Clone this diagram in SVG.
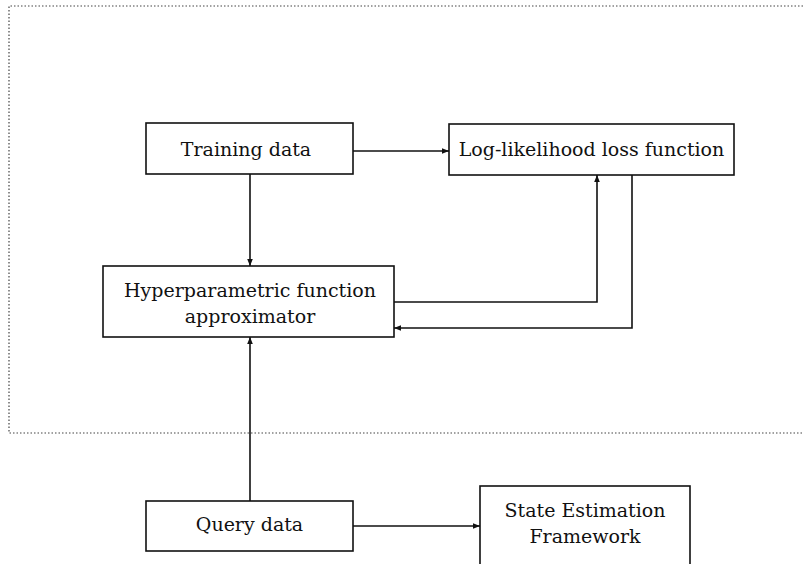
<svg xmlns="http://www.w3.org/2000/svg" width="804" height="564" viewBox="0 0 804 564">
  <defs>
    <marker id="arrow" viewBox="0 0 10 10" refX="10" refY="5" markerWidth="9" markerHeight="7" markerUnits="userSpaceOnUse" orient="auto">
      <path d="M0,1 L10,5 L0,9 z" fill="#111"/>
    </marker>
  </defs>
  <style>
    .box { fill: #fff; stroke: #111; stroke-width: 1.6; }
    .lbl { font-family: "DejaVu Serif", "Liberation Serif", serif; font-size: 19px; fill: #111; text-anchor: middle; }
    .edge { fill: none; stroke: #111; stroke-width: 1.6; }
    .frame { fill: none; stroke: #444; stroke-width: 1.2; stroke-dasharray: 1.5 2; }
  </style>
  <rect width="804" height="564" fill="#fff"/>

  <!-- dotted enclosure around the training stage -->
  <path class="frame" d="M810,6 H9 V433 H810"/>

  <g id="edges">
    <path class="edge" d="M353,151 H449" marker-end="url(#arrow)"/>
    <path class="edge" d="M250,174 V266" marker-end="url(#arrow)"/>
    <path class="edge" d="M394,302 H597 V175" marker-end="url(#arrow)"/>
    <path class="edge" d="M632,175 V328 H394" marker-end="url(#arrow)"/>
    <path class="edge" d="M250,501 V337" marker-end="url(#arrow)"/>
    <path class="edge" d="M353,526 H480" marker-end="url(#arrow)"/>
  </g>

  <g id="training-data">
    <rect class="box" x="146" y="123" width="207" height="51"/>
    <text class="lbl" x="246" y="156">Training data</text>
  </g>

  <g id="loss-function">
    <rect class="box" x="449" y="124" width="285" height="51"/>
    <text class="lbl" x="591.5" y="156">Log-likelihood loss function</text>
  </g>

  <g id="approximator">
    <rect class="box" x="103" y="266" width="291" height="71"/>
    <text class="lbl" x="250" y="297">Hyperparametric function</text>
    <text class="lbl" x="250" y="323">approximator</text>
  </g>

  <g id="query-data">
    <rect class="box" x="146" y="501" width="207" height="50"/>
    <text class="lbl" x="249.5" y="531">Query data</text>
  </g>

  <g id="state-estimation">
    <rect class="box" x="480" y="486" width="210" height="90"/>
    <text class="lbl" x="585" y="517">State Estimation</text>
    <text class="lbl" x="585" y="543">Framework</text>
  </g>
</svg>
